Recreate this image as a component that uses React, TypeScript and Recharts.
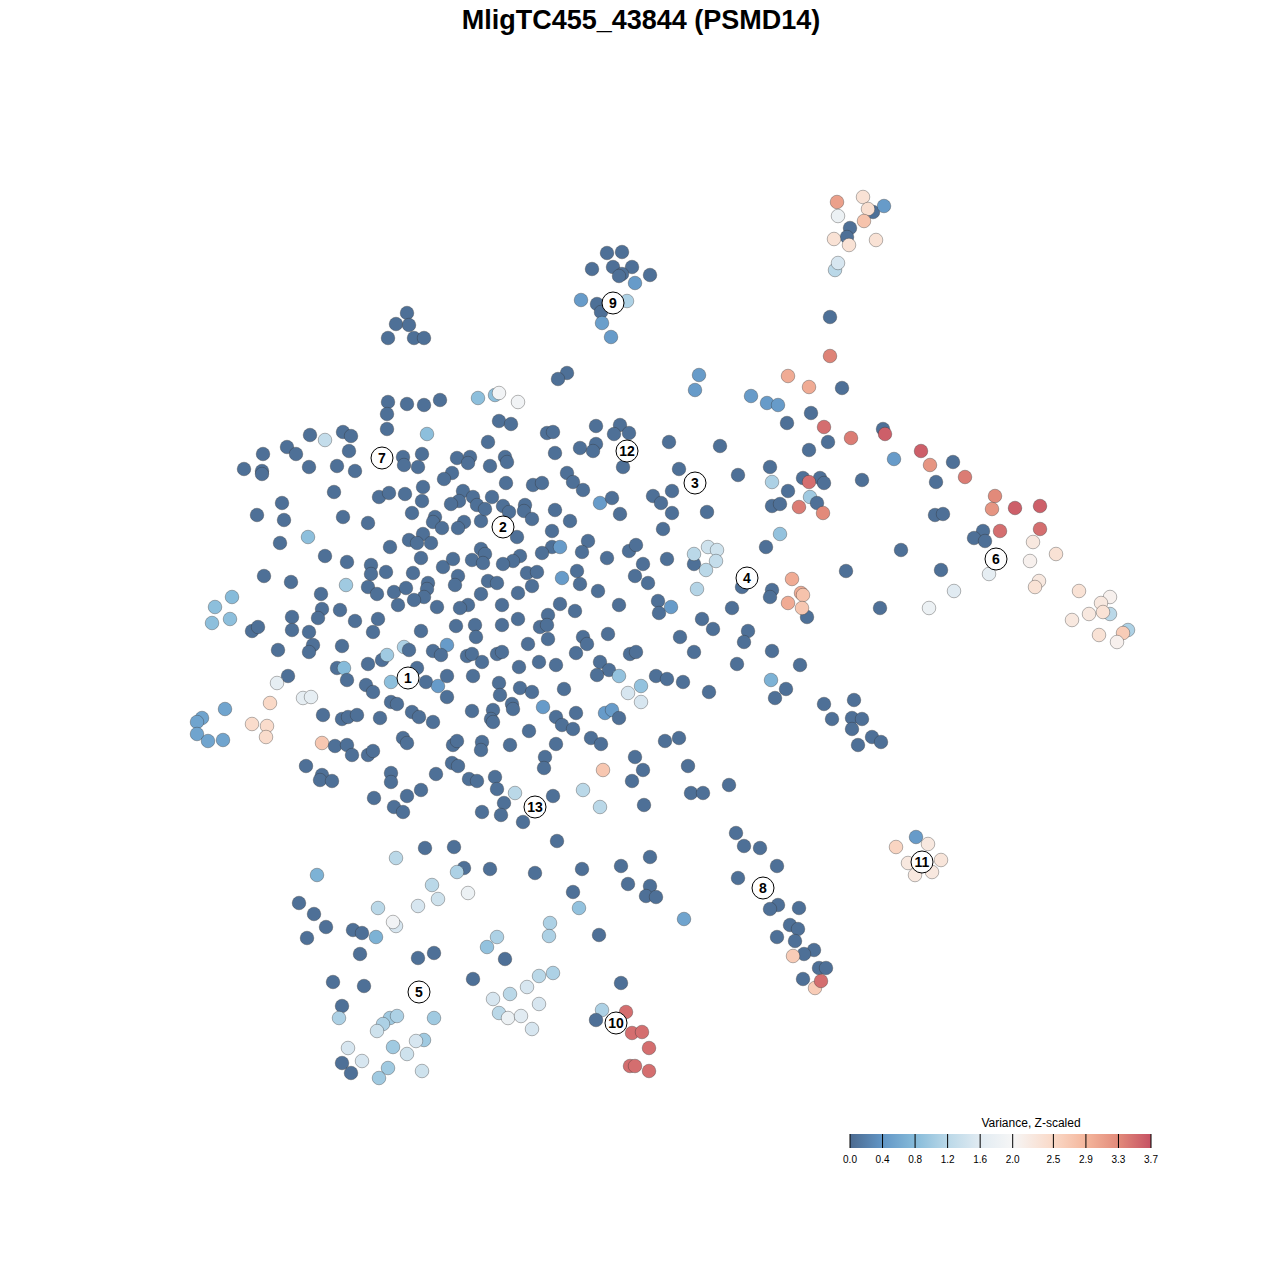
import React from 'react';
import { ScatterChart, Scatter, XAxis, YAxis } from 'recharts';

type P = [number, number, number]; // tSNE-1, tSNE-2 (screen-oriented), variance z-scaled

const titleText = 'MligTC455_43844 (PSMD14)';
const legendTitle = 'Variance, Z-scaled';
const legendTicks = [0.0, 0.4, 0.8, 1.2, 1.6, 2.0, 2.5, 2.9, 3.3, 3.7];
const legendMax = 3.7;
const colorStopValues = [0, 0.4, 0.8, 1.2, 1.6, 2.0, 2.5, 2.9, 3.3, 3.7];
const colorStopColors = ['#4b6a90', '#6296c6', '#86bbda', '#bad8e8', '#e1ebf2', '#f6f6f6', '#fad9c7', '#f4b69c', '#e28a7a', '#c65163'];

const pointsNorthWest: P[] = [
  [407, 313, 0.05], [396, 324, 0.05], [409, 325, 0.05], [388, 338, 0.05], [414, 338, 0.05], [424, 338, 0.05],
];

const pointsCluster9: P[] = [
  [607, 253, 0.05], [622, 252, 0.05], [592, 269, 0.05], [613, 267, 0.05], [632, 267, 0.05], [622, 274, 0.05],
  [619, 276, 0.05], [650, 275, 0.05], [635, 283, 0.45], [581, 300, 0.45], [597, 304, 0.05], [601, 312, 0.05],
  [602, 323, 0.5], [611, 337, 0.45], [627, 301, 1.1],
];

const pointsCoreUpperLeft: P[] = [
  [388, 402, 0.05], [407, 404, 0.05], [424, 405, 0.05], [440, 400, 0.05], [478, 398, 0.85],
  [387, 414, 0.05], [387, 429, 0.05], [310, 435, 0.05], [325, 440, 1.3], [343, 432, 0.05], [351, 436, 0.05], [427, 434, 0.85],
  [287, 447, 0.05], [296, 454, 0.05], [263, 454, 0.05], [349, 451, 0.05],
  [244, 469, 0.05], [262, 471, 0.05], [262, 474, 0.05], [309, 467, 0.05], [337, 466, 0.05], [355, 471, 0.05],
  [403, 457, 0.05], [404, 465, 0.05], [422, 454, 0.05], [418, 467, 0.05], [457, 458, 0.05], [470, 457, 0.05], [468, 463, 0.05], [452, 473, 0.05], [444, 479, 0.05],
  [334, 492, 0.05], [379, 497, 0.05], [389, 493, 0.05], [405, 494, 0.05], [423, 487, 0.05], [422, 501, 0.05], [463, 491, 0.05], [459, 501, 0.05], [451, 504, 0.05],
  [282, 503, 0.05], [257, 515, 0.05], [284, 520, 0.05], [343, 517, 0.05], [368, 523, 0.05], [412, 513, 0.05], [435, 517, 0.05], [433, 522, 0.05], [442, 528, 0.05], [464, 522, 0.05], [458, 528, 0.05], [481, 521, 0.05],
  [308, 537, 0.85], [280, 543, 0.05], [390, 547, 0.05], [409, 540, 0.05], [423, 534, 0.05], [417, 543, 0.05], [431, 543, 0.05], [481, 549, 0.05],
  [325, 556, 0.05], [347, 562, 0.05], [421, 558, 0.05], [443, 567, 0.05], [453, 559, 0.05], [472, 560, 0.05], [371, 565, 0.05], [371, 574, 0.05], [386, 572, 0.05], [413, 573, 0.05],
  [264, 576, 0.05], [291, 582, 0.05], [346, 585, 1.0], [368, 587, 0.05], [377, 594, 0.05], [394, 592, 0.05], [406, 588, 0.05], [428, 583, 0.05], [427, 589, 0.05], [424, 597, 0.05], [414, 600, 0.05], [458, 576, 0.05], [455, 585, 0.05], [481, 594, 0.05],
  [232, 597, 0.8], [215, 607, 0.85], [321, 594, 0.05], [322, 609, 0.05], [340, 610, 0.05], [398, 605, 0.05], [437, 607, 0.05], [468, 605, 0.05], [460, 608, 0.05],
];

const pointsCoreLowerLeft: P[] = [
  [212, 623, 0.85], [230, 619, 0.85], [292, 617, 0.05], [318, 618, 0.05], [355, 621, 0.05], [378, 619, 0.05], [373, 632, 0.05], [456, 626, 0.05], [475, 625, 0.05],
  [252, 631, 0.05], [258, 627, 0.05], [292, 630, 0.05], [309, 632, 0.05], [313, 645, 0.05], [309, 652, 0.05], [342, 646, 0.05], [278, 650, 0.05],
  [337, 668, 0.05], [344, 668, 0.8], [347, 680, 0.05], [368, 664, 0.05], [382, 660, 0.05], [387, 655, 1.0], [404, 647, 1.1], [409, 650, 0.05], [421, 631, 0.05], [433, 651, 0.05], [447, 645, 0.45], [441, 655, 0.05], [467, 656, 0.05], [472, 654, 0.05], [473, 676, 0.05], [476, 637, 0.05],
  [391, 682, 0.85], [417, 668, 0.05], [426, 682, 0.05], [438, 686, 0.45], [447, 676, 0.05], [447, 697, 0.05], [366, 685, 0.05], [373, 692, 0.05],
  [288, 676, 0.05], [277, 683, 1.7], [303, 698, 1.7], [311, 697, 1.7], [270, 703, 2.5],
  [225, 709, 0.55], [202, 718, 0.55], [197, 722, 0.55], [197, 734, 0.55], [208, 741, 0.55], [223, 740, 0.55],
  [252, 724, 2.45], [267, 726, 2.45], [266, 737, 2.45], [322, 743, 2.7],
  [323, 715, 0.05], [342, 719, 0.05], [348, 717, 0.05], [357, 715, 0.05], [380, 718, 0.05], [391, 702, 0.05], [397, 704, 0.05], [412, 712, 0.05], [419, 717, 0.05], [433, 722, 0.05], [472, 711, 0.05],
  [335, 746, 0.05], [347, 745, 0.05], [352, 755, 0.05], [368, 755, 0.05], [373, 751, 0.05], [403, 738, 0.05], [407, 743, 0.05], [453, 745, 0.05], [457, 741, 0.05], [482, 742, 0.05], [481, 750, 0.05],
  [306, 766, 0.05], [322, 775, 0.05], [320, 780, 0.05], [332, 781, 0.05], [391, 773, 0.05], [391, 782, 0.05], [436, 774, 0.05], [452, 763, 0.05], [458, 766, 0.05], [469, 779, 0.05], [477, 781, 0.05],
  [374, 798, 0.05], [407, 796, 0.05], [421, 790, 0.05], [394, 807, 0.05], [403, 812, 0.05], [482, 812, 0.05],
];

const pointsCoreUpperRight: P[] = [
  [567, 373, 0.05], [558, 379, 0.05], [495, 395, 0.85], [499, 393, 1.9], [518, 402, 1.9],
  [699, 375, 0.45], [695, 390, 0.45], [751, 396, 0.45], [767, 403, 0.45], [778, 405, 0.45],
  [499, 421, 0.05], [511, 424, 0.05], [547, 433, 0.05], [553, 432, 0.05], [596, 426, 0.05], [620, 425, 0.05], [614, 434, 0.05], [629, 433, 0.05], [488, 442, 0.05], [490, 466, 0.05], [505, 457, 0.05], [507, 462, 0.05], [555, 453, 0.05], [580, 448, 0.05], [596, 444, 0.05], [593, 451, 0.05], [623, 467, 0.05], [669, 442, 0.05], [720, 446, 0.05],
  [506, 483, 0.05], [533, 485, 0.05], [542, 483, 0.05], [567, 473, 0.05], [573, 482, 0.05], [583, 490, 0.05], [679, 469, 0.05], [738, 475, 0.05],
  [473, 497, 0.05], [477, 505, 0.05], [492, 497, 0.05], [485, 509, 0.05], [503, 506, 0.05], [509, 512, 0.05], [525, 505, 0.05], [524, 511, 0.05], [532, 519, 0.05], [555, 510, 0.05], [600, 503, 0.45], [612, 498, 0.05], [620, 514, 0.05], [653, 496, 0.05], [661, 503, 0.05], [672, 491, 0.05], [672, 513, 0.05], [707, 512, 0.05],
  [517, 537, 0.05], [552, 531, 0.05], [570, 521, 0.05], [663, 529, 0.05],
  [588, 541, 0.05], [552, 547, 0.05], [560, 547, 0.45], [582, 552, 0.05], [542, 553, 0.05], [520, 556, 0.05], [513, 561, 0.05], [485, 554, 0.05], [483, 563, 0.05], [503, 564, 0.05], [607, 558, 0.05], [629, 551, 0.05], [636, 545, 0.05], [643, 564, 0.05], [667, 559, 0.05],
  [694, 564, 0.05], [694, 554, 1.2], [708, 547, 1.4], [717, 550, 1.4], [716, 561, 1.3], [706, 570, 1.2], [697, 589, 1.15],
  [742, 587, 0.05],
  [577, 571, 0.05], [527, 573, 0.05], [537, 572, 0.05], [532, 586, 0.05], [562, 578, 0.45], [580, 584, 0.05], [598, 591, 0.05], [635, 576, 0.05], [648, 583, 0.05], [488, 581, 0.05], [497, 583, 0.05], [518, 593, 0.05],
];

const pointsCoreLowerRight: P[] = [
  [502, 605, 0.05], [560, 604, 0.05], [575, 611, 0.05], [619, 605, 0.05], [658, 601, 0.05], [659, 613, 0.05], [671, 607, 0.45], [732, 608, 0.05],
  [502, 625, 0.05], [518, 619, 0.05], [548, 615, 0.05], [540, 627, 0.05], [547, 625, 0.05],
  [548, 639, 0.05], [583, 637, 0.05], [587, 644, 0.05], [608, 634, 0.05], [528, 644, 0.05], [497, 654, 0.05], [502, 652, 0.05], [482, 662, 0.05], [519, 667, 0.05], [539, 662, 0.05], [556, 665, 0.05], [576, 653, 0.05], [600, 662, 0.05], [609, 670, 0.05], [597, 675, 0.05], [630, 654, 0.05], [636, 652, 0.05], [680, 637, 0.05], [702, 619, 0.05], [713, 629, 0.05], [694, 652, 0.05], [737, 664, 0.05],
  [619, 676, 0.9], [628, 693, 1.5], [641, 686, 0.9], [641, 702, 1.5], [656, 676, 0.05], [667, 679, 0.05], [683, 682, 0.05], [709, 692, 0.05],
  [499, 683, 0.05], [500, 695, 0.05], [520, 688, 0.05], [532, 692, 0.05], [564, 689, 0.05],
  [493, 710, 0.05], [491, 719, 0.05], [493, 722, 0.05], [512, 704, 0.05], [513, 709, 0.05], [543, 707, 0.45], [556, 717, 0.05], [562, 725, 0.05], [573, 729, 0.05], [576, 713, 0.05], [605, 713, 0.45], [612, 710, 0.45], [619, 718, 0.05],
  [510, 745, 0.05], [529, 731, 0.05], [556, 744, 0.05], [591, 738, 0.05], [601, 744, 0.05], [665, 741, 0.05], [679, 738, 0.05],
  [545, 757, 0.05], [544, 768, 0.05], [603, 770, 2.7], [635, 757, 0.05], [643, 770, 0.05], [632, 781, 0.05], [688, 766, 0.05],
  [495, 777, 0.05], [497, 789, 0.05], [515, 793, 1.2], [553, 796, 0.05], [583, 790, 1.2], [600, 807, 1.2], [644, 805, 0.05], [691, 793, 0.05], [703, 793, 0.05], [729, 785, 0.05],
  [504, 803, 0.05], [501, 815, 0.05], [523, 822, 0.05], [557, 841, 0.05],
];

const pointsNorthEast: P[] = [
  [873, 212, 0.05], [850, 228, 0.05], [847, 237, 0.05],
  [837, 202, 3.1], [863, 197, 2.35], [868, 209, 2.4], [884, 206, 0.45], [838, 216, 1.8], [864, 221, 2.75],
  [834, 239, 2.35], [849, 245, 2.35], [876, 240, 2.35], [835, 270, 1.2], [838, 263, 1.5],
  [830, 317, 0.05], [830, 356, 3.35], [788, 376, 3.0], [809, 387, 3.0], [842, 388, 0.05],
];

const pointsEastArm: P[] = [
  [811, 413, 0.05], [787, 423, 0.05], [824, 427, 3.5], [828, 442, 0.05], [809, 450, 0.05], [851, 438, 3.4], [883, 429, 0.05], [885, 434, 3.6],
  [894, 459, 0.45], [921, 451, 3.6], [930, 465, 3.2], [953, 462, 0.05], [965, 477, 3.4],
  [770, 467, 0.05], [772, 482, 1.1], [788, 491, 0.05], [803, 478, 0.05], [820, 478, 0.05], [824, 483, 0.05], [809, 482, 3.5], [810, 497, 1.0], [817, 503, 0.05], [799, 507, 3.4], [823, 513, 3.3], [772, 506, 0.05], [780, 504, 0.05], [862, 480, 0.05], [936, 482, 0.05],
  [995, 496, 3.3], [992, 509, 3.2], [1015, 508, 3.6], [1040, 506, 3.6], [1040, 529, 3.5], [1000, 531, 3.5], [935, 515, 0.05], [943, 514, 0.05], [983, 531, 0.05], [974, 538, 0.05], [985, 541, 0.05],
  [1033, 542, 2.25], [1056, 554, 2.35], [989, 574, 1.7], [1030, 561, 2.1], [1039, 581, 2.25], [1035, 587, 2.35], [1079, 591, 2.35], [1110, 597, 2.1], [1110, 614, 1.2], [1101, 603, 2.25], [1103, 612, 2.35], [1089, 614, 2.25], [1072, 620, 2.25], [1099, 635, 2.35], [1128, 630, 1.1], [1123, 633, 2.65], [1117, 642, 2.1],
  [954, 591, 1.6], [929, 608, 1.8], [901, 550, 0.05], [941, 570, 0.05], [880, 608, 0.05], [846, 571, 0.05],
  [780, 534, 0.9], [766, 547, 0.05],
  [772, 590, 0.05], [770, 597, 0.05], [807, 617, 0.05], [792, 579, 3.0], [801, 593, 3.0], [803, 595, 2.75], [788, 603, 3.0], [802, 608, 2.7],
  [748, 631, 0.05], [744, 642, 0.05], [772, 651, 0.05], [800, 665, 0.05], [771, 680, 0.7], [786, 689, 0.05], [775, 698, 0.05],
  [824, 704, 0.05], [854, 700, 0.05], [832, 719, 0.05], [852, 718, 0.05], [862, 719, 0.05], [852, 729, 0.05], [872, 737, 0.05], [881, 742, 0.05], [858, 745, 0.05],
];

const pointsCluster8: P[] = [
  [736, 833, 0.05], [744, 846, 0.05], [760, 848, 0.05], [777, 866, 0.05], [738, 878, 0.05], [778, 905, 0.05], [770, 909, 0.05], [799, 908, 0.05],
  [790, 925, 0.05], [798, 929, 0.05], [777, 937, 0.05], [795, 941, 0.05], [814, 950, 0.05], [804, 954, 0.05], [793, 956, 2.65],
  [819, 968, 0.05], [826, 968, 0.05], [803, 979, 0.05], [815, 988, 2.65], [821, 981, 3.5],
];

const pointsCluster11: P[] = [
  [916, 837, 0.45], [896, 847, 2.55], [928, 844, 2.25], [908, 863, 2.25], [941, 860, 2.3], [915, 875, 2.25], [932, 872, 2.25],
];

const pointsCluster10: P[] = [
  [621, 983, 0.05], [602, 1010, 1.1], [596, 1020, 0.05], [626, 1012, 3.5], [632, 1033, 3.5], [642, 1032, 3.5],
  [649, 1048, 3.5], [630, 1066, 3.5], [635, 1066, 3.5], [649, 1071, 3.5],
];

const pointsSouth: P[] = [
  [582, 869, 0.05], [621, 866, 0.05], [650, 857, 0.05], [628, 884, 0.05], [650, 886, 0.05], [646, 896, 0.05], [656, 897, 0.05], [573, 892, 0.05], [579, 908, 0.9], [684, 919, 0.55], [599, 935, 0.05],
  [425, 848, 0.05], [454, 847, 0.05], [464, 868, 0.05], [457, 872, 1.1], [490, 869, 0.05], [535, 873, 0.05],
  [396, 858, 1.2], [317, 875, 0.7], [432, 885, 1.2], [438, 899, 1.4], [418, 906, 1.5], [468, 893, 1.8], [378, 908, 1.2], [396, 926, 1.5], [393, 922, 1.9], [376, 937, 0.7],
  [299, 903, 0.05], [314, 914, 0.05], [326, 927, 0.05], [307, 938, 0.05], [353, 930, 0.05], [362, 933, 0.05], [360, 954, 0.05], [418, 958, 0.05], [434, 953, 0.05], [505, 959, 0.05], [473, 979, 0.05], [333, 982, 0.05], [364, 986, 0.05], [342, 1006, 0.05],
  [497, 937, 1.1], [487, 947, 0.9], [550, 923, 1.1], [549, 936, 1.1], [539, 976, 1.2], [553, 973, 1.1], [527, 987, 1.5], [510, 994, 1.2], [493, 999, 1.5], [499, 1013, 1.2], [508, 1018, 1.8], [521, 1016, 1.6], [539, 1004, 1.5], [532, 1029, 1.5],
  [339, 1018, 1.1], [390, 1018, 1.0], [397, 1016, 1.1], [383, 1024, 1.1], [377, 1031, 1.4], [434, 1018, 1.0], [348, 1048, 1.5], [393, 1047, 1.0], [424, 1040, 1.0], [416, 1041, 1.5], [407, 1054, 1.4], [362, 1061, 1.5], [342, 1063, 0.05], [351, 1073, 0.05], [388, 1068, 1.0], [379, 1078, 1.0], [422, 1071, 1.4],
];

const clusterIds = ['1', '2', '3', '4', '5', '6', '7', '8', '9', '10', '11', '12', '13'];
const clusterX = [408, 503, 695, 747, 419, 996, 382, 763, 613, 616, 922, 627, 535];
const clusterY = [678, 527, 483, 578, 992, 559, 458, 888, 303, 1023, 862, 451, 807];

const hexToRgb = (h: string) => [parseInt(h.slice(1, 3), 16), parseInt(h.slice(3, 5), 16), parseInt(h.slice(5, 7), 16)];
const colorFor = (v: number) => {
  if (v <= colorStopValues[0]) return colorStopColors[0];
  for (let i = 1; i < colorStopValues.length; i++) {
    if (v <= colorStopValues[i]) {
      const t = (v - colorStopValues[i - 1]) / (colorStopValues[i] - colorStopValues[i - 1]);
      const a = hexToRgb(colorStopColors[i - 1]);
      const b = hexToRgb(colorStopColors[i]);
      const c = a.map((x, k) => Math.round(x + (b[k] - x) * t));
      return `rgb(${c[0]},${c[1]},${c[2]})`;
    }
  }
  return colorStopColors[colorStopColors.length - 1];
};

const allPoints = [
  ...pointsNorthWest, ...pointsCluster9, ...pointsCoreUpperLeft, ...pointsCoreLowerLeft, ...pointsCoreUpperRight,
  ...pointsCoreLowerRight, ...pointsNorthEast, ...pointsEastArm, ...pointsCluster8, ...pointsCluster11,
  ...pointsCluster10, ...pointsSouth,
].map(([x, y, v]) => ({ x, y, v }));

const labelData = clusterIds.map((id, i) => ({ x: clusterX[i], y: clusterY[i], id }));

const PointShape = (props: any) => {
  const { cx, cy } = props;
  const v = props.payload ? props.payload.v : props.v;
  if (cx == null || cy == null) return null;
  return <circle cx={cx} cy={cy} r={6.8} fill={colorFor(v)} stroke="#333" strokeOpacity={0.45} strokeWidth={0.8} />;
};

const LabelShape = (props: any) => {
  const { cx, cy } = props;
  const id = props.payload ? props.payload.id : props.id;
  if (cx == null || cy == null) return null;
  return (
    <g>
      <circle cx={cx} cy={cy} r={11} fill="#ffffff" stroke="#000" strokeWidth={1} />
      <text x={cx} y={cy + 5} textAnchor="middle" fontFamily="Liberation Sans, Arial, sans-serif" fontWeight="bold" fontSize={14} fill="#000">{id}</text>
    </g>
  );
};

const barX0 = 850;
const barX1 = 1151;
const barY = 1134;
const barH = 14;

export default function App() {
  const scaleX = (v: number) => barX0 + (v / legendMax) * (barX1 - barX0);
  return (
    <div style={{ position: 'absolute', left: 0, top: 0, width: 1280, height: 1280, background: '#fff' }}>
      <ScatterChart width={1280} height={1280} margin={{ top: 0, right: 0, bottom: 0, left: 0 }}>
        <XAxis type="number" dataKey="x" domain={[0, 1280]} hide allowDataOverflow />
        <YAxis type="number" dataKey="y" domain={[0, 1280]} reversed hide allowDataOverflow />
        <Scatter data={allPoints} shape={PointShape} isAnimationActive={false} />
        <Scatter data={labelData} shape={LabelShape} isAnimationActive={false} />
      </ScatterChart>
      <svg width={1280} height={1280} style={{ position: 'absolute', left: 0, top: 0, pointerEvents: 'none' }}>
        <defs>
          <linearGradient id="varGrad" x1="0" x2="1" y1="0" y2="0">
            {colorStopValues.map((v, i) => (
              <stop key={i} offset={`${(v / legendMax) * 100}%`} stopColor={colorStopColors[i]} />
            ))}
          </linearGradient>
        </defs>
        <text x={641} y={29} textAnchor="middle" fontFamily="Liberation Sans, Arial, sans-serif" fontWeight="bold" fontSize={27} fill="#000">{titleText}</text>
        <text x={1031} y={1127} textAnchor="middle" fontFamily="Liberation Sans, Arial, sans-serif" fontSize={12} fill="#000">{legendTitle}</text>
        <rect x={barX0} y={barY} width={barX1 - barX0} height={barH} fill="url(#varGrad)" />
        {legendTicks.map((t, i) => (
          <g key={i}>
            <line x1={scaleX(t)} x2={scaleX(t)} y1={barY} y2={barY + barH} stroke="#000" strokeWidth={1} />
            <text x={scaleX(t)} y={1163} textAnchor="middle" fontFamily="Liberation Sans, Arial, sans-serif" fontSize={10} fill="#000">{t.toFixed(1)}</text>
          </g>
        ))}
      </svg>
    </div>
  );
}
